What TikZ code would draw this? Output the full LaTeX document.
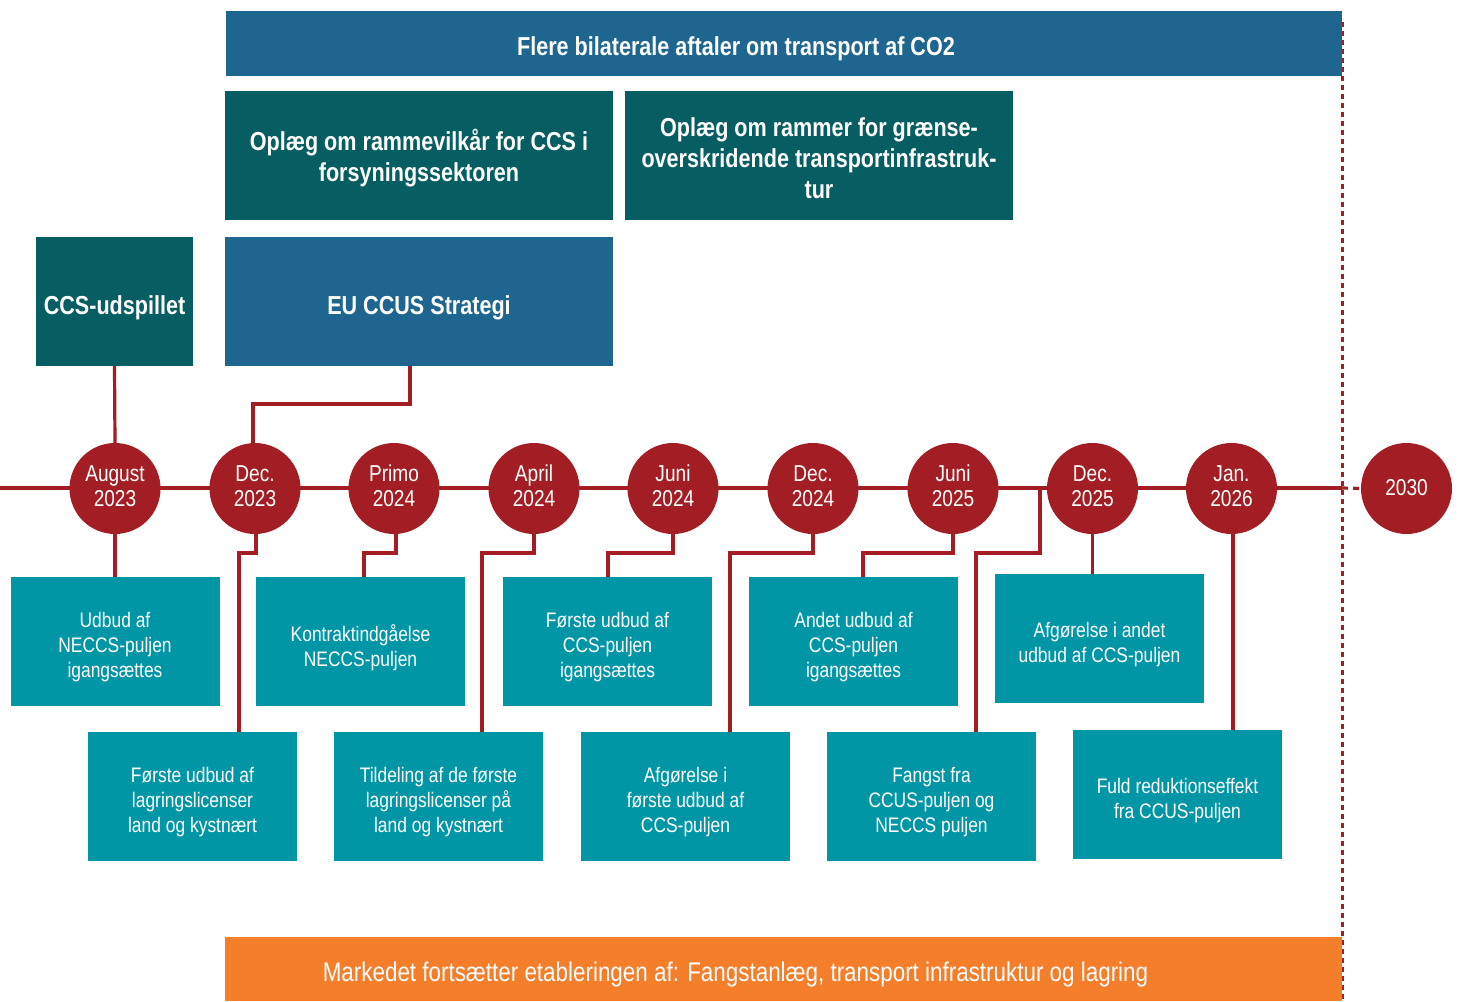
\documentclass[tikz,border=0pt]{standalone}
\usepackage{fontspec}
\setmainfont{Liberation Sans}[FakeStretch=0.83]
\usetikzlibrary{calc}
\definecolor{tlred}{HTML}{A31E24}
\definecolor{tlteal}{HTML}{0096A6}
\definecolor{tldark}{HTML}{065E63}
\definecolor{tlblue}{HTML}{1E6690}
\definecolor{tlorange}{HTML}{F47E2A}
\begin{document}
\begin{tikzpicture}[x=1pt,y=-1pt,
  every node/.style={inner sep=0pt,outer sep=0pt,text=white,align=center},
  lbox/.style={rectangle,fill=tlteal,minimum width=209pt,minimum height=129pt},
  hbox/.style={rectangle,minimum width=388pt,minimum height=129pt},
  htext/.style={font=\bfseries\fontsize{26}{31}\selectfont},
  ltext/.style={font=\fontsize{21}{25}\selectfont},
  datec/.style={circle,fill=tlred,minimum size=91pt},
  dtext/.style={font=\fontsize{23}{25}\selectfont},
  conn/.style={draw=tlred,line width=3.2pt},
]
\useasboundingbox (0,0) rectangle (1461,1001);

% dashed vertical boundary
\coordinate (dtop) at (1342,22);
\coordinate (dbot) at (1342,1001);
\draw[tlred,line width=3pt,dash pattern=on 5pt off 4pt] (dtop) -- (dbot);

% top bars
\node[rectangle,fill=tlblue,minimum width=1116pt,minimum height=65pt] (flere) at (784,43.5) {};
\node[htext] at ([xshift=-48pt,yshift=-5pt]flere.center) {Flere bilaterale aftaler om transport af CO2};
\node[hbox,fill=tldark] (oplA) at (419,155.5) {};
\node[htext] at ([yshift=-3pt]oplA.center) {Oplæg om rammevilkår for CCS i\\forsyningssektoren};
\node[hbox,fill=tldark] (oplB) at (819,155.5) {};
\node[htext] at ([yshift=-3pt]oplB.center) {Oplæg om rammer for grænse-\\overskridende transportinfrastruk-\\tur};
\node[hbox,fill=tldark,minimum width=157pt] (ccs) at (114.5,301.5) {};
\node[htext] at ([yshift=-6pt]ccs.center) {CCS-udspillet};
\node[hbox,fill=tlblue] (eu) at (419,301.5) {};
\node[htext] at ([yshift=-6pt]eu.center) {EU CCUS Strategi};

% timeline
\coordinate (tl0) at (0,488);
\coordinate (tl1) at (1342,488);
\coordinate (tlb) at (1040,488);
\draw[conn] (tl0) -- (tl1);

\foreach \n/\x/\t in {c1/115/{August\\2023}, c2/255/{Dec.\\2023}, c3/394/{Primo\\2024},
  c4/534/{April\\2024}, c5/673/{Juni\\2024}, c6/813/{Dec.\\2024}, c7/953/{Juni\\2025},
  c8/1092.5/{Dec.\\2025}, c9/1231.5/{Jan.\\2026}}{
  \node[datec] (\n) at (\x,488.5) {};
  \node[dtext] at ([yshift=2.5pt]\n.center) {\t};
}
\node[datec] (c10) at (1406.5,488.5) {};
\node[dtext] at ([yshift=0.5pt]c10.center) {2030};
\draw[tlred,line width=3.2pt,dash pattern=on 6pt off 5pt] (tl1) -- (c10.west);

% lower boxes
\foreach \n/\x/\y/\t in {b1/115/641.5/{Udbud af\\NECCS-puljen\\igangsættes},
  b2/192.5/796.5/{Første udbud af\\lagringslicenser\\land og kystnært},
  b3/360.5/641.5/{Kontraktindgåelse\\NECCS-puljen},
  b4/438.5/796.5/{Tildeling af de første\\lagringslicenser på\\land og kystnært},
  b5/607.5/641.5/{Første udbud af\\CCS-puljen\\igangsættes},
  b6/685.5/796.5/{Afgørelse i\\første udbud af\\CCS-puljen},
  b7/853.5/641.5/{Andet udbud af\\CCS-puljen\\igangsættes},
  b8/931.5/796.5/{Fangst fra\\CCUS-puljen og\\NECCS puljen},
  b9/1099.5/638.5/{Afgørelse i andet\\udbud af CCS-puljen},
  b10/1177.5/794.5/{Fuld reduktionseffekt\\fra CCUS-puljen}}{
  \node[lbox] (\n) at (\x,\y) {};
  \node[ltext] at ([yshift=-6pt]\n.center) {\t};
}

% orange bar
\node[rectangle,fill=tlorange,minimum width=1117pt,minimum height=64pt] (mark) at (783.5,969) {};
\node[font=\fontsize{27}{30}\selectfont] at ([xshift=-48pt,yshift=-6pt]mark.center) {Markedet fortsætter etableringen af: Fangstanlæg, transport infrastruktur og lagring};

% upper connectors
\draw[conn] (ccs.south) -- (c1.north);
\draw[conn] ([xshift=-9pt]eu.south) -- ++(0,38) -| ([xshift=-2pt]c2.north);

% lower connectors
\draw[conn] (c1.south) -- (b1.north);
\draw[conn] ([xshift=1pt]c2.south) -- ++(0,19) -| ([xshift=46.5pt]b2.north);
\draw[conn] ([xshift=2pt]c3.south) -- ++(0,19) -| ([xshift=3.5pt]b3.north);
\draw[conn] (c4.south) -- ++(0,19) -| ([xshift=43.5pt]b4.north);
\draw[conn] (c5.south) -- ++(0,19) -| ([xshift=0.5pt]b5.north);
\draw[conn] (c6.south) -- ++(0,19) -| ([xshift=44.5pt]b6.north);
\draw[conn] (c7.south) -- ++(0,19) -| ([xshift=9.5pt]b7.north);
\draw[conn] (tlb) -- ++(0,65) -| ([xshift=44.5pt]b8.north);
\draw[conn] (c8.south) -- (c8.south |- b9.north);
\draw[conn] ([xshift=1.5pt]c9.south) -- ([xshift=1.5pt]c9.south |- b10.north);
\end{tikzpicture}
\end{document}
